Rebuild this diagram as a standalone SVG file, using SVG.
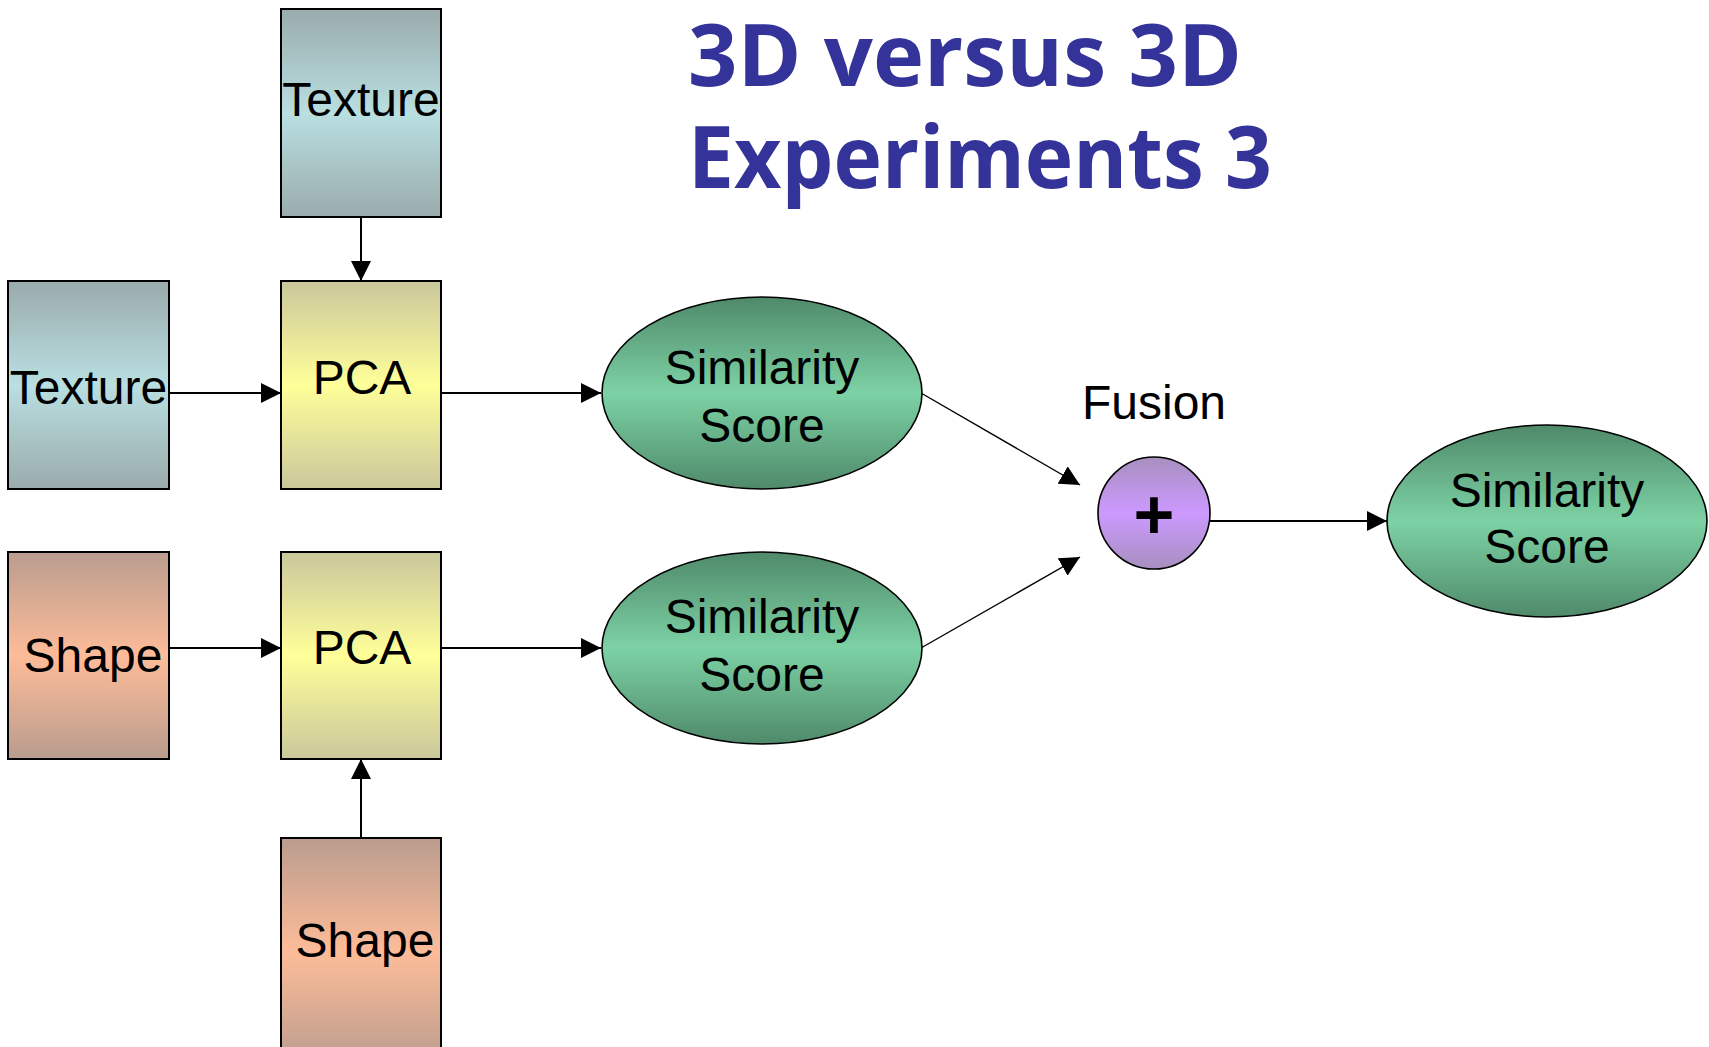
<svg xmlns="http://www.w3.org/2000/svg" width="1709" height="1047" viewBox="0 0 1709 1047">
  <defs>
    <linearGradient id="gTexture" x1="0" y1="0" x2="0" y2="1">
      <stop offset="0" stop-color="#9AABAC"/>
      <stop offset="0.5" stop-color="#B9DFE1"/>
      <stop offset="1" stop-color="#9AABAC"/>
    </linearGradient>
    <linearGradient id="gPca" x1="0" y1="0" x2="0" y2="1">
      <stop offset="0" stop-color="#CAC79C"/>
      <stop offset="0.5" stop-color="#FFFF99"/>
      <stop offset="1" stop-color="#CAC79C"/>
    </linearGradient>
    <linearGradient id="gShape" x1="0" y1="0" x2="0" y2="1">
      <stop offset="0" stop-color="#BA9C8E"/>
      <stop offset="0.5" stop-color="#FDBC99"/>
      <stop offset="1" stop-color="#BA9C8E"/>
    </linearGradient>
    <linearGradient id="gScore" x1="0" y1="0" x2="0" y2="1">
      <stop offset="0" stop-color="#4F8A6A"/>
      <stop offset="0.5" stop-color="#7DD2A5"/>
      <stop offset="1" stop-color="#4F8A6A"/>
    </linearGradient>
    <linearGradient id="gFusion" x1="0" y1="0" x2="0" y2="1">
      <stop offset="0" stop-color="#A78FBF"/>
      <stop offset="0.5" stop-color="#CC99FF"/>
      <stop offset="1" stop-color="#A78FBF"/>
    </linearGradient>
    <marker id="arrow" markerUnits="userSpaceOnUse" markerWidth="20" markerHeight="20" refX="20" refY="10" orient="auto">
      <path d="M0,0 L20,10 L0,20 Z" fill="#000"/>
    </marker>
  </defs>
  <style>
    .box { stroke: #000; stroke-width: 2; }
    .oval { stroke: #000; stroke-width: 1.6; }
    .lbl { font-family: "Liberation Sans", Arial, sans-serif; font-size: 48px; fill: #000; text-anchor: middle; }
    .title { font-family: "Open Sans", "DejaVu Sans", sans-serif; font-weight: 700; font-size: 86px; fill: #343399; }
    .conn { stroke: #000; stroke-width: 2; fill: none; marker-end: url(#arrow); }
    .conn.thin { stroke-width: 1.4; }
  </style>

  <!-- title -->
  <g id="title">
    <text class="title" x="688" y="86" textLength="554" lengthAdjust="spacingAndGlyphs">3D versus 3D</text>
    <text class="title" x="688" y="188" textLength="584" lengthAdjust="spacingAndGlyphs">Experiments 3</text>
  </g>

  <!-- connectors -->
  <g id="connectors">
    <path class="conn" d="M361,217 L361,281"/>
    <path class="conn" d="M169,393 L281,393"/>
    <path class="conn" d="M441,393 L601,393"/>
    <path class="conn" d="M169,648 L281,648"/>
    <path class="conn" d="M441,648 L601,648"/>
    <path class="conn" d="M361,838 L361,759"/>
    <path class="conn thin" d="M921,393 L1080,485"/>
    <path class="conn thin" d="M921,648 L1080,557"/>
    <path class="conn" d="M1210,521 L1387,521"/>
  </g>

  <!-- input blocks -->
  <g id="texture-top">
    <rect class="box" x="281" y="9" width="160" height="208" fill="url(#gTexture)"/>
    <text class="lbl" x="361" y="116">Texture</text>
  </g>
  <g id="texture-left">
    <rect class="box" x="8" y="281" width="161" height="208" fill="url(#gTexture)"/>
    <text class="lbl" x="88.5" y="404">Texture</text>
  </g>
  <g id="pca-texture">
    <rect class="box" x="281" y="281" width="160" height="208" fill="url(#gPca)"/>
    <text class="lbl" x="362" y="394">PCA</text>
  </g>
  <g id="shape-left">
    <rect class="box" x="8" y="552" width="161" height="207" fill="url(#gShape)"/>
    <text class="lbl" x="93" y="672">Shape</text>
  </g>
  <g id="pca-shape">
    <rect class="box" x="281" y="552" width="160" height="207" fill="url(#gPca)"/>
    <text class="lbl" x="362" y="664">PCA</text>
  </g>
  <g id="shape-bottom">
    <rect class="box" x="281" y="838" width="160" height="228" fill="url(#gShape)"/>
    <text class="lbl" x="365" y="957">Shape</text>
  </g>

  <!-- scores -->
  <g id="score-texture">
    <ellipse class="oval" cx="762" cy="393" rx="160" ry="96" fill="url(#gScore)"/>
    <text class="lbl" x="762" y="384">Similarity</text>
    <text class="lbl" x="762" y="442">Score</text>
  </g>
  <g id="score-shape">
    <ellipse class="oval" cx="762" cy="648" rx="160" ry="96" fill="url(#gScore)"/>
    <text class="lbl" x="762" y="633">Similarity</text>
    <text class="lbl" x="762" y="691">Score</text>
  </g>

  <!-- fusion -->
  <g id="fusion">
    <text class="lbl" x="1154" y="419">Fusion</text>
    <circle class="oval" cx="1154" cy="513" r="56" fill="url(#gFusion)"/>
    <text class="lbl" x="1154" y="539" style="font-size:70px;font-weight:700">+</text>
  </g>

  <g id="score-fused">
    <ellipse class="oval" cx="1547" cy="521" rx="160" ry="96" fill="url(#gScore)"/>
    <text class="lbl" x="1547" y="507">Similarity</text>
    <text class="lbl" x="1547" y="563">Score</text>
  </g>
</svg>
